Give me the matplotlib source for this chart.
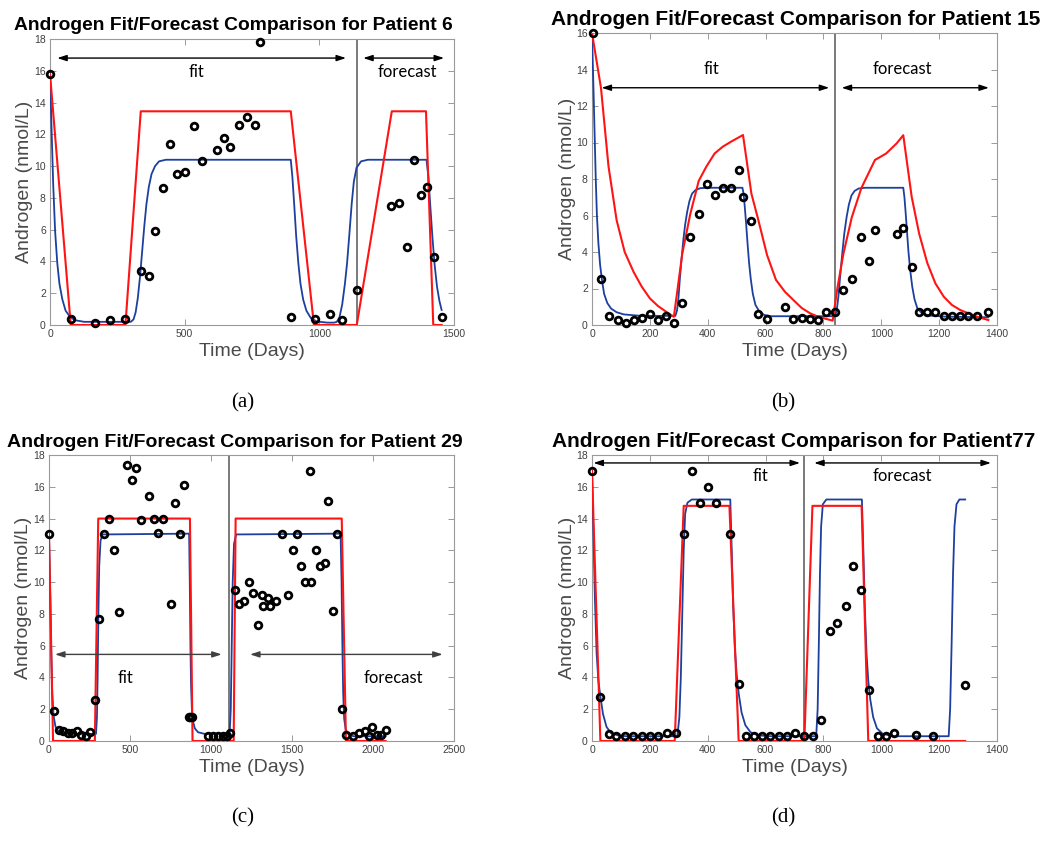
import matplotlib
matplotlib.use("Agg")
import matplotlib.pyplot as plt

# ---------------- data ----------------
# Panel (a) Patient 6
a_obs_x = [0, 77, 167, 222, 280, 337, 366, 391, 418, 446, 473, 503, 536, 564, 620, 647, 668, 703, 731, 760,
           781, 895, 983, 1041, 1084, 1139, 1266, 1297, 1326, 1350, 1379, 1400, 1427, 1454]
a_obs_y = [15.8, 0.4, 0.1, 0.3, 0.4, 3.4, 3.1, 5.9, 8.6, 11.4, 9.5, 9.6, 12.5, 10.3, 11.0, 11.8, 11.2, 12.6, 13.1, 12.6,
           17.8, 0.5, 0.4, 0.7, 0.3, 2.2, 7.5, 7.7, 4.9, 10.4, 8.2, 8.7, 4.3, 0.5]
a_red_x = [0, 77, 280, 337, 894, 980, 1139, 1269, 1396, 1423, 1454]
a_red_y = [15.8, 0, 0, 13.45, 13.45, 0, 0, 13.45, 13.45, 0, 0]
a_blue_x = [0, 6, 12, 19, 27, 35, 46, 58, 75, 93, 127, 300, 310, 318, 326, 334, 342, 350, 358, 367,
            377, 390, 405, 430, 894, 900, 907, 914, 922, 930, 940, 952, 968, 990, 1030, 1055, 1065, 1075, 1085, 1095,
            1103, 1111, 1120, 1128, 1138, 1155, 1180, 1398, 1405, 1412, 1420, 1428, 1437, 1446, 1454]
a_blue_y = [16.0, 12.2, 8.8, 5.9, 3.9, 2.6, 1.6, 0.9, 0.5, 0.3, 0.2, 0.2, 0.35, 0.8, 1.7, 3.0, 4.6, 6.2, 7.6, 8.7,
            9.5, 10.0, 10.3, 10.4, 10.4, 9.3, 7.5, 5.6, 3.9, 2.6, 1.6, 0.9, 0.45, 0.22, 0.15, 0.15, 0.2, 0.5, 1.3, 2.6,
            3.9, 5.6, 7.6, 9.0, 9.9, 10.3, 10.4, 10.4, 9.3, 7.5, 5.5, 3.8, 2.4, 1.5, 0.95]
a_split = 1140

# Panel (b) Patient 15
b_obs_x = [3, 31, 60, 89, 117, 144, 172, 200, 228, 256, 283, 312, 340, 369, 396, 424, 452, 480, 508, 522,
           551, 575, 605, 667, 696, 725, 754, 782, 810, 839, 869, 898, 931, 957, 978, 1053, 1076, 1105, 1131, 1159,
           1187, 1216, 1244, 1273, 1301, 1332, 1370]
b_obs_y = [16.0, 2.5, 0.5, 0.3, 0.1, 0.3, 0.4, 0.6, 0.3, 0.5, 0.1, 1.2, 4.8, 6.1, 7.7, 7.1, 7.5, 7.5, 8.5, 7.0,
           5.7, 0.6, 0.35, 1.0, 0.35, 0.4, 0.35, 0.3, 0.7, 0.7, 1.9, 2.5, 4.8, 3.5, 5.2, 5.0, 5.3, 3.2, 0.7, 0.7,
           0.7, 0.5, 0.5, 0.5, 0.5, 0.5, 0.7]
b_red_x = [0, 31, 57, 85, 113, 144, 172, 200, 228, 256, 283, 312, 340, 369, 396, 424, 452, 480, 522, 551,
           575, 605, 636, 667, 696, 725, 754, 782, 832, 848, 869, 898, 931, 978, 1017, 1053, 1076, 1105, 1131, 1159,
           1187, 1216, 1244, 1273, 1301, 1332, 1370]
b_red_y = [16.0, 13.0, 8.7, 5.75, 4.0, 2.9, 2.1, 1.46, 1.04, 0.73, 0.45, 3.9, 6.1, 7.9, 8.7, 9.4, 9.77, 10.04, 10.41, 7.2,
           5.75, 3.84, 2.47, 1.82, 1.37, 0.93, 0.64, 0.45, 0.24, 2.0, 3.9, 5.9, 7.5, 9.04, 9.4, 9.95, 10.4, 7.03, 5.0, 3.4,
           2.28, 1.55, 1.1, 0.82, 0.64, 0.45, 0.27]
b_blue_x = [0, 5, 9, 13, 17, 22, 28, 35, 42, 53, 66, 85, 110, 170, 288, 294, 299, 304, 310, 316,
            322, 329, 337, 346, 358, 375, 400, 520, 524, 528, 533, 538, 543, 549, 556, 565, 578, 595, 620, 840,
            846, 852, 858, 865, 872, 880, 888, 897, 908, 922, 945, 1076, 1080, 1084, 1089, 1094, 1100, 1107, 1115, 1125,
            1140, 1165, 1220, 1370]
b_blue_y = [16.0, 13.0, 10.5, 8.0, 6.0, 4.5, 3.3, 2.4, 1.7, 1.2, 0.9, 0.7, 0.58, 0.5, 0.5, 0.8, 1.5, 2.6, 3.7, 4.7,
            5.5, 6.2, 6.8, 7.2, 7.4, 7.5, 7.52, 7.52, 7.2, 6.5, 5.5, 4.4, 3.4, 2.5, 1.7, 1.1, 0.75, 0.55, 0.48, 0.48,
            0.8, 1.6, 2.7, 3.9, 5.0, 5.9, 6.6, 7.1, 7.35, 7.48, 7.52, 7.52, 7.0, 6.2, 5.1, 4.0, 3.0, 2.1, 1.4, 0.9,
            0.65, 0.52, 0.46, 0.42]
b_split = 840

# Panel (c) Patient 29
c_obs_x = [2, 31, 60, 88, 115, 142, 171, 198, 227, 255, 282, 309, 340, 372, 401, 430, 483, 512, 539, 568,
           617, 650, 673, 702, 751, 778, 809, 833, 862, 872, 882, 981, 1014, 1043, 1072, 1097, 1117, 1150, 1175, 1206,
           1235, 1261, 1288, 1317, 1323, 1350, 1366, 1399, 1436, 1477, 1504, 1533, 1556, 1582, 1611, 1619, 1646, 1673,
           1704, 1720, 1751, 1776, 1807, 1833, 1878, 1915, 1952, 1973, 1996, 2023, 2051, 2078]
c_obs_y = [13.0, 1.9, 0.7, 0.6, 0.5, 0.5, 0.6, 0.4, 0.3, 0.55, 2.6, 7.7, 13.0, 14.0, 12.0, 8.1, 17.4, 16.4, 17.2, 13.9,
           15.4, 14.0, 13.1, 14.0, 8.6, 15.0, 13.0, 16.1, 1.5, 1.5, 1.5, 0.3, 0.3, 0.3, 0.3, 0.3, 0.5, 9.5, 8.6, 8.8,
           10.0, 9.3, 7.3, 9.2, 8.5, 9.0, 8.5, 8.8, 13.0, 9.2, 12.0, 13.0, 11.0, 10.0, 17.0, 10.0, 12.0, 11.0,
           11.2, 15.1, 8.2, 13.0, 2.0, 0.4, 0.3, 0.5, 0.6, 0.3, 0.9, 0.4, 0.4, 0.7]
c_red_x = [0, 25, 283, 304, 870, 886, 1140, 1152, 1807, 1833, 2078]
c_red_y = [13.0, 0, 0, 14.0, 14.0, 0, 0, 14.0, 14.0, 0, 0]
c_blue_x = [0, 8, 14, 20, 28, 40, 60, 100, 290, 296, 300, 305, 310, 318, 330, 865, 869, 873, 877, 882,
            890, 900, 920, 960, 1115, 1122, 1128, 1134, 1142, 1155, 1800, 1806, 1811, 1816, 1822, 1832, 1850, 1880, 2078]
c_blue_y = [13.0, 9.0, 5.5, 3.0, 1.6, 0.9, 0.6, 0.45, 0.45, 1.5, 4.0, 8.0, 11.0, 12.6, 13.0, 13.05, 10.0, 6.0, 3.5, 2.0,
            1.2, 0.8, 0.55, 0.45, 0.45, 2.0, 6.0, 10.0, 12.4, 13.0, 13.05, 10.0, 6.0, 3.0, 1.4, 0.7, 0.4, 0.3, 0.3]
c_split = 1111

# Panel (d) Patient 77
d_obs_x = [1, 29, 58, 83, 114, 143, 172, 200, 229, 260, 289, 318, 346, 373, 402, 429, 477, 507, 534, 561,
           588, 617, 645, 674, 702, 734, 764, 791, 823, 848, 877, 903, 930, 958, 987, 1016, 1044, 1120, 1178, 1290]
d_obs_y = [17.0, 2.8, 0.42, 0.3, 0.3, 0.3, 0.3, 0.3, 0.3, 0.5, 0.5, 13.0, 17.0, 15.0, 16.0, 15.0, 13.0, 3.6, 0.3, 0.3,
           0.3, 0.3, 0.3, 0.3, 0.5, 0.3, 0.3, 1.3, 6.9, 7.4, 8.5, 11.0, 9.5, 3.2, 0.3, 0.3, 0.5, 0.4, 0.3, 3.5]
d_red_x = [0, 29, 286, 317, 475, 507, 734, 762, 932, 955, 1290]
d_red_y = [17.0, 0, 0, 14.8, 14.8, 0, 0, 14.8, 14.8, 0, 0]
d_blue_x = [0, 5, 10, 16, 22, 29, 38, 50, 65, 90, 120, 295, 302, 307, 312, 317, 322, 330, 345, 478,
            483, 488, 494, 500, 507, 517, 530, 548, 575, 620, 775, 780, 784, 788, 792, 798, 810, 933, 938, 943,
            949, 955, 962, 972, 985, 1005, 1040, 1233, 1238, 1243, 1248, 1253, 1260, 1270, 1290]
d_blue_y = [17.0, 13.0, 9.0, 5.5, 3.8, 2.8, 1.7, 0.9, 0.5, 0.35, 0.3, 0.3, 1.5, 4.0, 8.0, 12.0, 14.3, 15.0, 15.2, 15.2,
            12.0, 8.5, 5.8, 4.2, 3.0, 1.8, 1.0, 0.55, 0.35, 0.3, 0.3, 2.0, 6.0, 10.5, 13.5, 14.9, 15.2, 15.2, 12.0, 8.5,
            5.5, 3.8, 2.6, 1.5, 0.8, 0.45, 0.3, 0.3, 2.0, 6.0, 10.5, 13.5, 14.9, 15.2, 15.2]
d_split = 733

titles = ["Androgen Fit/Forecast Comparison for Patient 6",
          "Androgen Fit/Forecast Comparison for Patient 15",
          "Androgen Fit/Forecast Comparison for Patient 29",
          "Androgen Fit/Forecast Comparison for Patient77"]
captions = ["(a)", "(b)", "(c)", "(d)"]

# ---------------- style ----------------
W, H = 1050, 842
RED = "#ff1414"
BLUE = "#1d3f9e"
fig = plt.figure(figsize=(W / 100, H / 100), dpi=100)


def px_axes(l, t, r, b):
    return fig.add_axes([l / W, 1 - b / H, (r - l) / W, (b - t) / H])


def fx(px):
    return px / W


def fy(py):
    return 1 - py / H


panels = [
    dict(box=(50, 39, 454, 325), xlim=(0, 1500), xt=range(0, 1501, 500), ylim=(0, 18), yt=range(0, 19, 2),
         ox=a_obs_x, oy=a_obs_y, rx=a_red_x, ry=a_red_y, bx=a_blue_x, by=a_blue_y, split=a_split,
         fit=((27, 1099), 16.8, 545, 15.9), fc=((1163, 1463), 16.8, 1328, 15.9), acol="k",
         title=(233, 30, 437), cap=(243, 403)),
    dict(box=(592, 33, 997, 325), xlim=(0, 1400), xt=range(0, 1401, 200), ylim=(0, 16), yt=range(0, 17, 2),
         ox=b_obs_x, oy=b_obs_y, rx=b_red_x, ry=b_red_y, bx=b_blue_x, by=b_blue_y, split=b_split,
         fit=((33, 820), 13.0, 414, 14.0), fc=((863, 1372), 13.0, 1073, 14.0), acol="k",
         title=(796, 25, 487), cap=(783, 403)),
    dict(box=(49, 455, 454, 741), xlim=(0, 2500), xt=range(0, 2501, 500), ylim=(0, 18), yt=range(0, 19, 2),
         ox=c_obs_x, oy=c_obs_y, rx=c_red_x, ry=c_red_y, bx=c_blue_x, by=c_blue_y, split=c_split,
         fit=((37, 1066), 5.45, 469, 3.95), fc=((1241, 2430), 5.45, 2125, 3.95), acol="#404040",
         title=(235, 447, 454), cap=(243, 818)),
    dict(box=(592, 455, 997, 741), xlim=(0, 1400), xt=range(0, 1401, 200), ylim=(0, 18), yt=range(0, 19, 2),
         ox=d_obs_x, oy=d_obs_y, rx=d_red_x, ry=d_red_y, bx=d_blue_x, by=d_blue_y, split=d_split,
         fit=((5, 719), 17.5, 581, 16.7), fc=((768, 1379), 17.5, 1074, 16.7), acol="k",
         title=(794, 447, 482), cap=(783, 818)),
]

renderer = fig.canvas.get_renderer()

for i, p in enumerate(panels):
    l, t, r, b = p["box"]
    ax = px_axes(l, t, r, b)
    ax.plot(p["bx"], p["by"], color=BLUE, lw=1.3, zorder=3)
    ax.plot(p["rx"], p["ry"], color=RED, lw=1.5, zorder=4)
    ax.plot(p["ox"], p["oy"], "o", mfc="none", mec="black", mew=2.0, ms=4.8, zorder=6, clip_on=False)
    ax.axvline(p["split"], color="#7a7a7a", lw=1.4, zorder=2)
    ax.set_xlim(*p["xlim"])
    ax.set_ylim(*p["ylim"])
    ax.set_xticks(list(p["xt"]))
    ax.set_yticks(list(p["yt"]))
    ax.tick_params(direction="in", top=True, right=True, length=4, width=0.6, colors="#8a8a8a",
                   labelcolor="#404040", labelsize=7.5, pad=3)
    for lab in ax.get_xticklabels() + ax.get_yticklabels():
        lab.set_fontfamily("Liberation Sans")
    for s in ax.spines.values():
        s.set_color("#9a9a9a")
        s.set_linewidth(0.8)
    ax.set_ylabel("Androgen (nmol/L)", fontsize=14, color="#4a4a4a", family="Liberation Sans", va="center")
    ax.yaxis.set_label_coords(-25 / (r - l), 0.5)
    ax.set_xlabel("Time (Days)", fontsize=14, color="#4a4a4a", family="Liberation Sans", va="center")
    ax.xaxis.set_label_coords(0.5, -27 / (b - t))

    # arrows and labels
    for (xs, ya, tx, ty), word in ((p["fit"], "fit"), (p["fc"], "forecast")):
        ax.annotate("", xy=(xs[1], ya), xytext=(xs[0], ya),
                    arrowprops=dict(arrowstyle="<|-|>,head_length=0.55,head_width=0.18",
                                    color=p["acol"], lw=1.0, shrinkA=0, shrinkB=0), zorder=5)
        ax.text(tx, ty, word, ha="center", va="center", fontsize=12, family="Lato", color="black")

    # title fitted to width
    cx, by_, wpx = p["title"]
    tt = fig.text(fx(cx), fy(by_), titles[i], ha="center", va="baseline", fontsize=12,
                  fontweight="bold", family="Liberation Sans")
    ext = tt.get_window_extent(renderer=renderer)
    tt.set_fontsize(12 * wpx / ext.width)

    cxp, cyp = p["cap"]
    fig.text(fx(cxp), fy(cyp), captions[i], ha="center", va="center", fontsize=15, family="Liberation Serif")

fig.savefig("out.png", dpi=100)
